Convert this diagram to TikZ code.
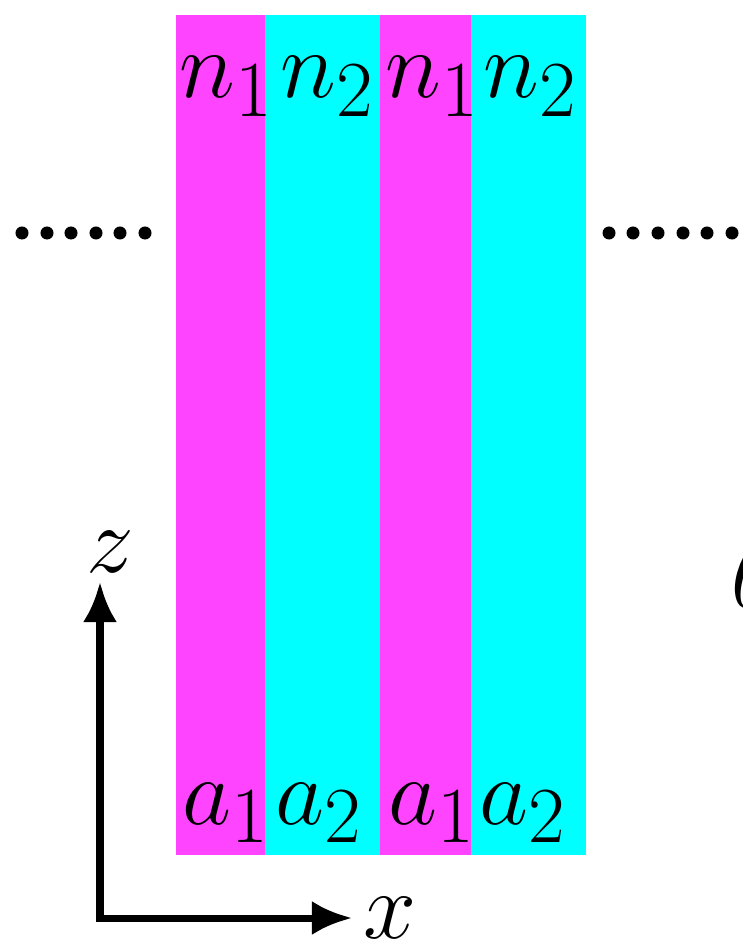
\documentclass[tikz,border=0pt]{standalone}
\usetikzlibrary{arrows.meta}
\definecolor{layerA}{RGB}{255,68,255}
\definecolor{layerB}{RGB}{0,255,255}
\begin{document}
\begin{tikzpicture}[x=0.01cm, y=-0.01cm, >={Latex[length=0.4cm,width=0.34cm]},
      lbl/.style={inner sep=0pt, anchor=base, font=\Huge, scale=1.09},
      axis/.style={line width=0.07cm, ->},
      dot/.style={fill=black, circle, inner sep=0pt, minimum size=0.13cm}]
    \useasboundingbox (0,0) rectangle (742,943);
    % layers
    \fill[layerA] (176,15) rectangle (265,855);
    \fill[layerB] (265,15) rectangle (380,855);
    \fill[layerA] (380,15) rectangle (471,855);
    \fill[layerB] (471,15) rectangle (586,855);
    % indices
    \node[lbl] (n1a) at (227,98) {$n_1$};
    \node[lbl] (n2a) at (328,98) {$n_2$};
    \node[lbl] (n1b) at (433,98) {$n_1$};
    \node[lbl] (n2b) at (531,98) {$n_2$};
    \node[lbl] (a1a) at (226,824) {$a_1$};
    \node[lbl] (a2a) at (319,824) {$a_2$};
    \node[lbl] (a1b) at (432,824) {$a_1$};
    \node[lbl] (a2b) at (523,824) {$a_2$};
    % periodic continuation
    \foreach \i/\x in {1/22,2/47,3/71,4/96,5/120,6/145}
      \node[dot] (l\i) at (\x,233) {};
    \foreach \i/\x in {1/609,2/633,3/658,4/683,5/707,6/732}
      \node[dot] (r\i) at (\x,233) {};
    \node[lbl, anchor=west] (th) at (731,574) {$\theta$};
    % axes
    \coordinate (o) at (100,918);
    \coordinate (zt) at (100,582);
    \coordinate (xt) at (352,918);
    \draw[axis] ([yshift=-0.035cm]o) -- (zt);
    \draw[axis] ([xshift=-0.035cm]o) -- (xt);
    \node[lbl, anchor=center] (zl) at (110,552) {$z$};
    \node[lbl, anchor=center] (xl) at (390,918) {$x$};
  \end{tikzpicture}
\end{document}
